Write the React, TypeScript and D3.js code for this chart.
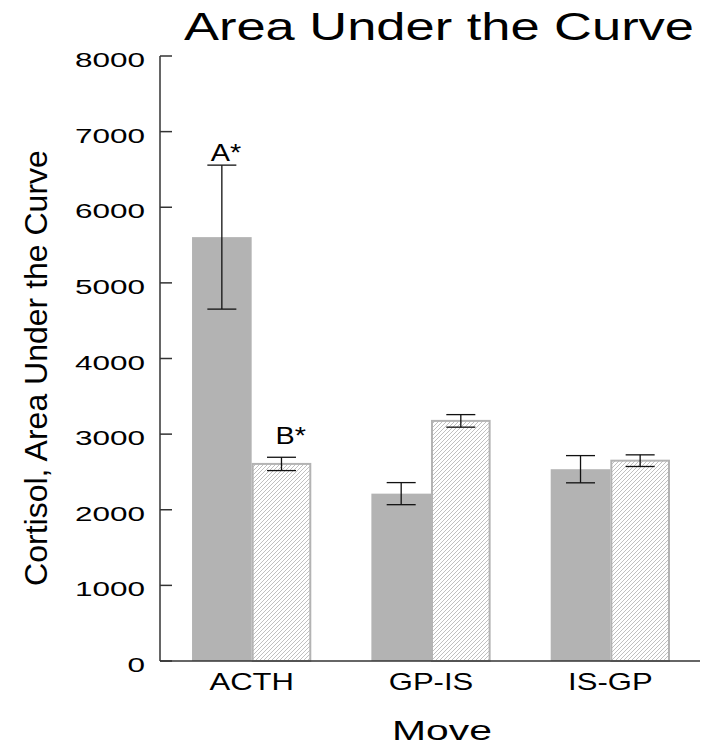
import React from "react";
import * as d3 from "d3";

const categories = ["ACTH", "GP-IS", "IS-GP"];
const solidMeans = [5605, 2213, 2536];
const solidErrors = [952, 146, 180];
const hatchMeans = [2606, 3175, 2649];
const hatchErrors = [88, 83, 77];
const yTicks = [0, 1000, 2000, 3000, 4000, 5000, 6000, 7000, 8000];
const annotations = [
  { cat: "ACTH", series: 0, label: "A*" },
  { cat: "ACTH", series: 1, label: "B*" },
];

const FONT = "'Liberation Sans', Arial, Helvetica, sans-serif";

export default function App() {
  const W = 705;
  const H = 746;
  const axisX = 160;
  const y = d3.scaleLinear().domain([0, 8000]).range([661, 56]);
  const x = d3
    .scaleBand<string>()
    .domain(categories)
    .range([162, 700])
    .paddingInner(0.335)
    .paddingOuter(0.1675);
  const sub = d3.scaleBand<string>().domain(["s", "h"]).range([0, x.bandwidth()]);
  const capW = 29;

  const series = [
    { key: "s", means: solidMeans, errs: solidErrors },
    { key: "h", means: hatchMeans, errs: hatchErrors },
  ];

  return (
    <svg width={W} height={H} style={{ display: "block", position: "absolute", left: 0, top: 0 }}>
      <defs>
        <pattern id="hatch" patternUnits="userSpaceOnUse" width={4} height={4}>
          <rect width={4} height={4} fill="#ffffff" />
          <path d="M-1,1 l2,-2 M0,4 l4,-4 M3,5 l2,-2" stroke="#b0b0b0" strokeWidth={0.8} />
        </pattern>
      </defs>
      <rect width={W} height={H} fill="#ffffff" />
      {/* title */}
      <text
        transform={`translate(184,40) scale(1.38,1)`}
        fontFamily={FONT}
        fontSize={38}
        fill="#000"
      >
        Area Under the Curve
      </text>
      {/* bars */}
      {series.map((s, si) =>
        categories.map((c, i) => {
          const x0 = (x(c) as number) + (sub(s.key) as number);
          const w = sub.bandwidth();
          const top = y(s.means[i]);
          const cx = x0 + w / 2;
          const eTop = y(s.means[i] + s.errs[i]);
          const eBot = y(s.means[i] - s.errs[i]);
          return (
            <g key={`${si}-${i}`}>
              {si === 0 ? (
                <rect x={x0} y={top} width={w} height={y(0) - top} fill="#b3b3b3" />
              ) : (
                <rect
                  x={x0 + 1}
                  y={top}
                  width={w - 2}
                  height={y(0) - top}
                  fill="url(#hatch)"
                  stroke="#b3b3b3"
                  strokeWidth={2}
                />
              )}
              <line x1={cx} x2={cx} y1={eTop} y2={eBot} stroke="#111" strokeWidth={1.3} />
              <line x1={cx - capW / 2} x2={cx + capW / 2} y1={eTop} y2={eTop} stroke="#111" strokeWidth={1.3} />
              <line x1={cx - capW / 2} x2={cx + capW / 2} y1={eBot} y2={eBot} stroke="#111" strokeWidth={1.3} />
            </g>
          );
        })
      )}
      {/* annotations */}
      {annotations.map((a, k) => {
        const i = categories.indexOf(a.cat);
        const s = series[a.series];
        const x0 = (x(a.cat) as number) + (sub(s.key) as number);
        const cx = x0 + sub.bandwidth() / 2;
        const eTop = y(s.means[i] + s.errs[i]);
        const dx = a.series === 0 ? -11 : -6;
        const dy = a.series === 0 ? -4 : -13;
        return (
          <text
            key={k}
            transform={`translate(${cx + dx},${eTop + dy}) scale(1.2,1)`}
            fontFamily={FONT}
            fontSize={24}
            fill="#000"
          >
            {a.label}
          </text>
        );
      })}
      {/* y axis */}
      <line x1={axisX} x2={axisX} y1={y(8000)} y2={y(0)} stroke="#333" strokeWidth={1.5} />
      {yTicks.map((t) => (
        <g key={t}>
          <line x1={axisX} x2={axisX + 12} y1={y(t)} y2={y(t)} stroke="#333" strokeWidth={1.5} />
          <text
            transform={`translate(145,${y(t) + 11}) scale(1.5,1)`}
            textAnchor="end"
            fontFamily={FONT}
            fontSize={21}
            fill="#000"
          >
            {t}
          </text>
        </g>
      ))}
      {/* x axis */}
      <line x1={axisX} x2={700} y1={y(0)} y2={y(0)} stroke="#333" strokeWidth={1.5} />
      {categories.map((c) => (
        <text
          key={c}
          transform={`translate(${(x(c) as number) + x.bandwidth() / 2},690) scale(1.35,1)`}
          textAnchor="middle"
          fontFamily={FONT}
          fontSize={23}
          fill="#000"
        >
          {c}
        </text>
      ))}
      <text
        transform={`translate(442,740) scale(1.46,1)`}
        textAnchor="middle"
        fontFamily={FONT}
        fontSize={28}
        fill="#000"
      >
        Move
      </text>
      <text
        transform={`translate(47,368) rotate(-90)`}
        textAnchor="middle"
        fontFamily={FONT}
        fontSize={32}
        fill="#000"
      >
        Cortisol, Area Under the Curve
      </text>
    </svg>
  );
}
